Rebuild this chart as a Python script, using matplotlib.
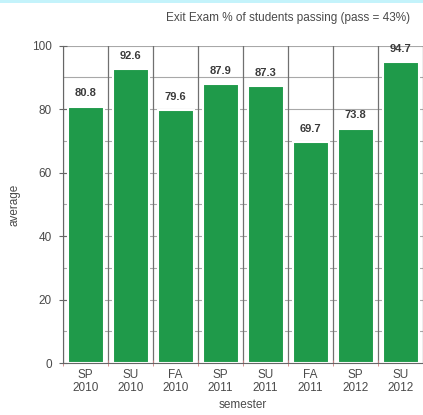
import matplotlib
matplotlib.use("Agg")
import matplotlib.pyplot as plt
import numpy as np
from matplotlib.patches import Rectangle

semesters = ["SP\n2010", "SU\n2010", "FA\n2010", "SP\n2011", "SU\n2011",
             "FA\n2011", "SP\n2012", "SU\n2012"]
averages = [80.8, 92.6, 79.6, 87.9, 87.3, 69.7, 73.8, 94.7]
y_ticks = [0, 20, 40, 60, 80, 100]

plt.rcParams["font.family"] = ["Liberation Sans", "DejaVu Sans"]

fig = plt.figure(figsize=(4.23, 4.15), dpi=100)
fig.patch.set_facecolor("white")
# thin cyan strip across the top of the page
fig.patches.append(Rectangle((0, 0.992), 1, 0.008, transform=fig.transFigure,
                             facecolor="#c4f3fb", edgecolor="none"))

ax = fig.add_axes([0.149, 0.125, 0.851, 0.765])
x = np.arange(len(semesters))

ax.set_xlim(-0.5, len(semesters) - 0.5)
ax.set_ylim(0, 100)

# grid: horizontal every 10, vertical at category boundaries
for yv in range(10, 101, 10):
    ax.axhline(yv, color="#a8a8a8", lw=0.8, zorder=0)
for xv in np.arange(-0.5, len(semesters), 1.0):
    ax.axvline(xv, color="#707070", lw=0.9, zorder=0)

bars = ax.bar(x, averages, width=0.8, color="#1f9a4a", edgecolor="white",
              linewidth=1.5, zorder=2)
for xi, v in zip(x, averages):
    ax.annotate(f"{v:.1f}", (xi, v), xytext=(0, 6), textcoords="offset points",
                ha="center", va="bottom", fontsize=8, fontweight="bold",
                color="#3a3a3a")

ax.set_yticks(y_ticks)
ax.set_xticks(x)
ax.set_xticklabels(semesters, fontsize=8.5, color="#4a4a4a", linespacing=1.2)
ax.set_xticks(np.arange(-0.5, len(semesters), 1.0), minor=True)
ax.tick_params(axis="x", which="major", length=0, pad=4)
ax.tick_params(axis="x", which="minor", length=4, direction="inout",
               color="#d08080")
ax.tick_params(axis="y", labelsize=8.5, labelcolor="#4a4a4a", length=6,
               direction="inout", color="#666666", pad=5)

for side in ("top", "right"):
    ax.spines[side].set_visible(False)
ax.spines["left"].set_color("#666666")
ax.spines["bottom"].set_color("#666666")

ax.set_ylabel("average", fontsize=8.5, color="#4a4a4a", labelpad=8)
ax.set_xlabel("semester", fontsize=8.5, color="#4a4a4a", labelpad=3)

fig.text(0.97, 0.957, "Exit Exam % of students passing (pass = 43%)",
         ha="right", va="center", fontsize=8.5, color="#4a4a4a")

fig.savefig("out.png", dpi=100)
